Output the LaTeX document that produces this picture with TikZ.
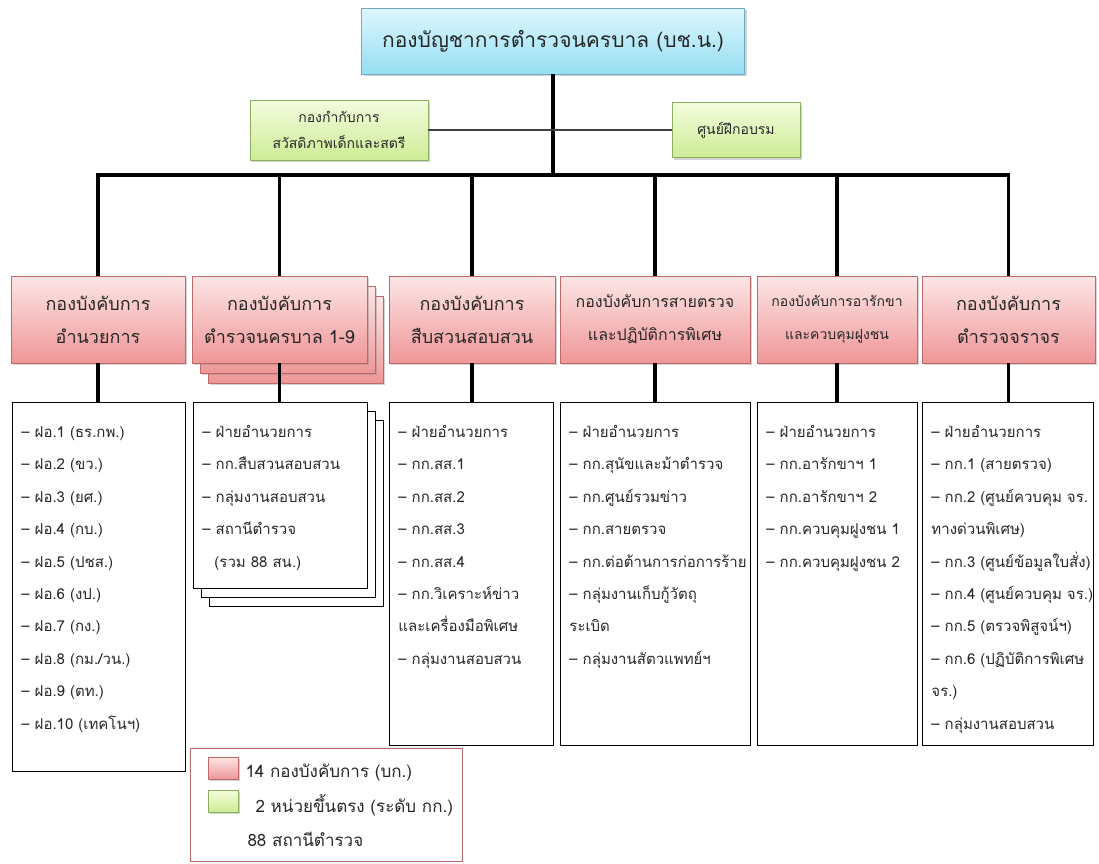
\documentclass[tikz,border=0pt]{standalone}
\usepackage{fontspec}
\setmainfont[Script=Thai]{Loma}
\usetikzlibrary{shadows}
\definecolor{hqtop}{RGB}{222,247,253}
\definecolor{hqbot}{RGB}{150,222,242}
\definecolor{hqline}{RGB}{110,170,195}
\definecolor{pktop}{RGB}{253,230,230}
\definecolor{pkbot}{RGB}{239,150,152}
\definecolor{pkline}{RGB}{190,105,105}
\definecolor{grtop}{RGB}{244,252,222}
\definecolor{grbot}{RGB}{205,236,150}
\definecolor{grline}{RGB}{140,175,95}
\definecolor{txt}{RGB}{40,40,40}
\newcommand{\itemsbox}[3]{\begin{minipage}[c][#2pt][t]{#1pt}\raggedright\leftskip=9pt\rule{0pt}{35pt}#3\end{minipage}}
\tikzstyle{hq} = [rectangle, draw=hqline, top color=hqtop, bottom color=hqbot, minimum width=383pt, minimum height=66pt, text centered, text=txt, font=\fontsize{21}{25}\selectfont, drop shadow={shadow xshift=2pt, shadow yshift=-2pt, opacity=0.35}]
\tikzstyle{unit} = [rectangle, draw=grline, top color=grtop, bottom color=grbot, align=center, text=txt, font=\fontsize{14}{26}\selectfont, drop shadow={shadow xshift=2pt, shadow yshift=-2pt, opacity=0.35}]
\tikzstyle{bureau} = [rectangle, draw=pkline, top color=pktop, bottom color=pkbot, minimum height=87pt, align=center, text=txt, font=\fontsize{18}{33}\selectfont, drop shadow={shadow xshift=2pt, shadow yshift=-2pt, opacity=0.35}]
\tikzstyle{listbox} = [rectangle, draw=black, line width=0.9pt, fill=white, inner sep=0pt, text=txt, font=\fontsize{15}{32.4}\selectfont]
\tikzstyle{trunk} = [line width=3.5pt, draw=black]
\tikzstyle{branch} = [line width=1.3pt, draw=black!75]
\tikzstyle{legtext} = [anchor=west, text=txt, font=\fontsize{17}{20}\selectfont]

\begin{document}
\begin{tikzpicture}[x=1pt, y=-1pt]
\useasboundingbox (0,0) rectangle (1099,863);

\node (bchn) [hq] at (553,41) {กองบัญชาการตำรวจนครบาล (บช.น.)};
\node (kk) [unit, minimum width=178pt, minimum height=60pt] at (339,130) {กองกำกับการ\\สวัสดิภาพเด็กและสตรี};
\node (train) [unit, minimum width=128pt, minimum height=55pt] at (736,130) {ศูนย์ฝึกอบรม};
\coordinate (bus) at (0,175);

% bureaus
\node (bk1) [bureau, minimum width=174pt] at (98,319.5) {กองบังคับการ\\อำนวยการ};
\node (bk2c) [bureau, minimum width=175pt] at (295.5,339.5) {};
\node (bk2b) [bureau, minimum width=175pt] at (287.5,329.5) {};
\node (bk2) [bureau, minimum width=175pt] at (279.5,319.5) {กองบังคับการ\\ตำรวจนครบาล 1-9};
\node (bk3) [bureau, minimum width=166pt] at (472,319.5) {กองบังคับการ\\สืบสวนสอบสวน};
\node (bk4) [bureau, minimum width=190pt, font=\fontsize{16}{33}\selectfont] at (655,319.5) {กองบังคับการสายตรวจ\\และปฏิบัติการพิเศษ};
\node (bk5) [bureau, minimum width=160pt, font=\fontsize{14}{33}\selectfont] at (837,319.5) {กองบังคับการอารักขา\\และควบคุมฝูงชน};
\node (bk6) [bureau, minimum width=173pt] at (1008.5,319.5) {กองบังคับการ\\ตำรวจจราจร};

% lists
\node (lst1) [listbox, anchor=north west] at (12,402) {\itemsbox{173}{369}{%
– ฝอ.1 (ธร.กพ.)\\– ฝอ.2 (ขว.)\\– ฝอ.3 (ยศ.)\\– ฝอ.4 (กบ.)\\– ฝอ.5 (ปชส.)\\– ฝอ.6 (งป.)\\– ฝอ.7 (กง.)\\– ฝอ.8 (กม./วน.)\\– ฝอ.9 (ตท.)\\– ฝอ.10 (เทคโนฯ)}};
\node (lst2c) [listbox, anchor=north west] at (209,420) {\itemsbox{174}{186}{}};
\node (lst2b) [listbox, anchor=north west] at (201,411) {\itemsbox{174}{186}{}};
\node (lst2) [listbox, anchor=north west] at (193,402) {\itemsbox{174}{186}{%
– ฝ่ายอำนวยการ\\– กก.สืบสวนสอบสวน\\– กลุ่มงานสอบสวน\\– สถานีตำรวจ\\\hspace*{12pt}(รวม 88 สน.)}};
\node (lst3) [listbox, anchor=north west] at (389,402) {\itemsbox{164}{343}{%
– ฝ่ายอำนวยการ\\– กก.สส.1\\– กก.สส.2\\– กก.สส.3\\– กก.สส.4\\– กก.วิเคราะห์ข่าว\\และเครื่องมือพิเศษ\\– กลุ่มงานสอบสวน}};
\node (lst4) [listbox, anchor=north west] at (560,402) {\itemsbox{190}{343}{%
– ฝ่ายอำนวยการ\\– กก.สุนัขและม้าตำรวจ\\– กก.ศูนย์รวมข่าว\\– กก.สายตรวจ\\– กก.ต่อต้านการก่อการร้าย\\– กลุ่มงานเก็บกู้วัตถุ\\ระเบิด\\– กลุ่มงานสัตวแพทย์ฯ}};
\node (lst5) [listbox, anchor=north west] at (757,402) {\itemsbox{160}{343}{%
– ฝ่ายอำนวยการ\\– กก.อารักขาฯ 1\\– กก.อารักขาฯ 2\\– กก.ควบคุมฝูงชน 1\\– กก.ควบคุมฝูงชน 2}};
\node (lst6) [listbox, anchor=north west] at (922,402) {\itemsbox{171}{343}{%
– ฝ่ายอำนวยการ\\– กก.1 (สายตรวจ)\\– กก.2 (ศูนย์ควบคุม จร.\\ทางด่วนพิเศษ)\\– กก.3 (ศูนย์ข้อมูลใบสั่ง)\\– กก.4 (ศูนย์ควบคุม จร.)\\– กก.5 (ตรวจพิสูจน์ฯ)\\– กก.6 (ปฏิบัติการพิเศษ\\จร.)\\– กลุ่มงานสอบสวน}};

% legend
\node (legend) [rectangle, draw=pkline, line width=1pt, fill=white, minimum width=272pt, minimum height=113pt] at (326,804.5) {};
\node (swpink) [bureau, minimum width=30pt, minimum height=22pt] at (223,768) {};
\node (swgreen) [unit, minimum width=30pt, minimum height=22pt] at (223,801) {};
\node (lgpink) [legtext] at (242,772) {14 กองบังคับการ (บก.)};
\node (lggreen) [legtext] at (252,805) {2 หน่วยขึ้นตรง (ระดับ กก.)};
\node (lgstation) [legtext] at (244,839) {88 สถานีตำรวจ};

% connectors
\draw [trunk] (bchn.south) -- (bchn.south |- bus);
\draw [branch] (kk.east) -- (kk.east -| bchn.south);
\draw [branch] (train.west) -- (train.west -| bchn.south);
\draw [trunk] (bk1.north) -- (bk1.north |- bus) -- (bk6.north |- bus) -- (bk6.north);
\foreach \b in {bk2,bk3,bk4,bk5}
  \draw [trunk] (\b.north |- bus) -- (\b.north);
\foreach \b/\l in {bk1/lst1,bk2/lst2,bk3/lst3,bk4/lst4,bk5/lst5,bk6/lst6}
  \draw [trunk] (\b.south) -- (\b.south |- \l.north);

\end{tikzpicture}
\end{document}
